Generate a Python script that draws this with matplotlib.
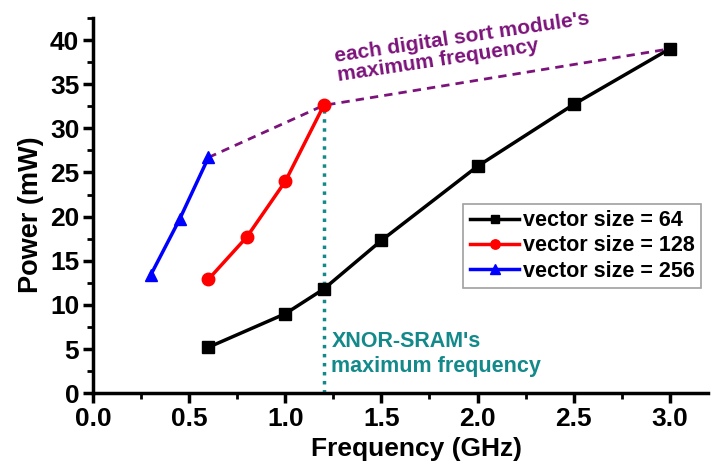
import numpy as np
import matplotlib.pyplot as plt
from matplotlib.ticker import MultipleLocator

plt.rcParams['font.family'] = ['Liberation Sans', 'DejaVu Sans']
plt.rcParams['font.weight'] = 'bold'

# data
f64 = [0.6, 1.0, 1.2, 1.5, 2.0, 2.5, 3.0]
p64 = [5.2, 9.0, 11.8, 17.3, 25.7, 32.7, 39.0]
f128 = [0.6, 0.8, 1.0, 1.2]
p128 = [12.9, 17.7, 24.0, 32.6]
f256 = [0.3, 0.45, 0.6]
p256 = [13.4, 19.7, 26.7]

# max-frequency envelope points (last point of each series)
env_f = [f256[-1], f128[-1], f64[-1]]
env_p = [p256[-1], p128[-1], p64[-1]]
sram_f = 1.2

fig = plt.figure(figsize=(7.11, 4.72), dpi=100)
ax = fig.add_axes([0.131, 0.167, 0.865, 0.795])

ax.plot(env_f, env_p, color='#7b137b', ls=(0, (3, 2.2)), lw=2, zorder=2)
ax.plot([sram_f, sram_f], [0, p128[-1]], color='#13898a', ls=(0, (1, 1.6)), lw=2.5, zorder=2)

ax.plot(f64, p64, color='black', marker='s', ms=8, lw=2.5, label='vector size = 64', zorder=3)
ax.plot(f128, p128, color='red', marker='o', ms=9, lw=2.5, label='vector size = 128', zorder=3)
ax.plot(f256, p256, color='blue', marker='^', ms=9, lw=2.5, label='vector size = 256', zorder=3)

ax.set_xlim(0, 3.2)
ax.set_ylim(0, 42.5)
ax.xaxis.set_major_locator(MultipleLocator(0.5))
ax.xaxis.set_minor_locator(MultipleLocator(0.25))
ax.yaxis.set_major_locator(MultipleLocator(5))
ax.yaxis.set_minor_locator(MultipleLocator(2.5))
for s in ['top', 'right']:
    ax.spines[s].set_visible(False)
for s in ['left', 'bottom']:
    ax.spines[s].set_linewidth(2.5)
ax.tick_params(which='major', length=7, width=2.5, labelsize=19, direction='out', pad=3)
ax.tick_params(which='minor', length=4, width=2, direction='out')
for lab in ax.get_xticklabels() + ax.get_yticklabels():
    lab.set_fontweight('bold')

ax.set_xlabel('Frequency (GHz)', fontsize=19, fontweight='bold', labelpad=4, x=0.525)
ax.set_ylabel('Power (mW)', fontsize=19.5, fontweight='bold', labelpad=4, y=0.475)

leg = ax.legend(loc='lower right', bbox_to_anchor=(0.988, 0.28), borderaxespad=0,
                fontsize=15.5, fancybox=False, edgecolor='#888888', handlelength=2.3,
                borderpad=0.3, labelspacing=0.2, handletextpad=0.15, markerscale=0.75)
leg.get_frame().set_linewidth(1.2)
for t in leg.get_texts():
    t.set_fontweight('bold')

ax.text(1.25, 39.2, "each digital sort module's\nmaximum frequency", color='#7b137b',
        fontsize=15, fontweight='bold', rotation=8.5, ha='left', va='top',
        multialignment='left', rotation_mode='anchor', linespacing=1.0)
ax.text(1.24, 4.4, "XNOR-SRAM's\nmaximum frequency", color='#13898a',
        fontsize=15.5, fontweight='bold', ha='left', va='center', linespacing=1.25)

fig.savefig('out.png', dpi=100)
